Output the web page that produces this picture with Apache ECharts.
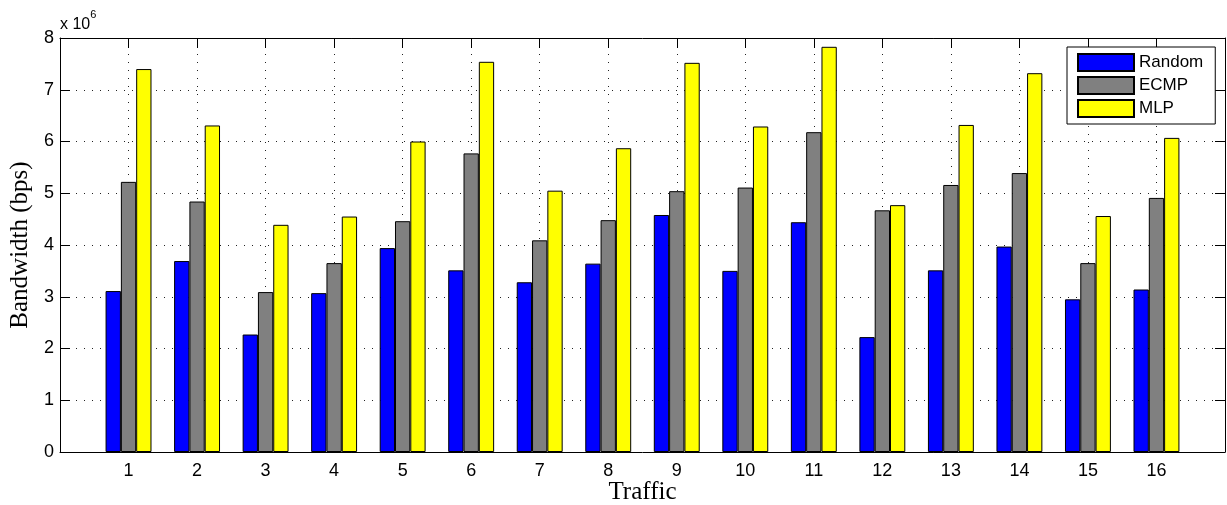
<!DOCTYPE html>
<html>
<head>
<meta charset="utf-8">
<script src="https://cdn.jsdelivr.net/npm/echarts@6/dist/echarts.min.js"></script>
<style>html,body{margin:0;padding:0;background:#fff}#c{width:1227px;height:505px}</style>
</head>
<body>
<div id="c"></div>
<script>
const categories = ['1','2','3','4','5','6','7','8','9','10','11','12','13','14','15','16'];
const seriesNames = ['Random','ECMP','MLP'];
// values in units of 10^6 bps
const randomVals = [3.11,3.69,2.27,3.07,3.94,3.51,3.28,3.64,4.58,3.50,4.44,2.22,3.51,3.97,2.95,3.14];
const ecmpVals   = [5.22,4.84,3.09,3.65,4.46,5.77,4.09,4.48,5.04,5.11,6.18,4.67,5.16,5.39,3.65,4.91];
const mlpVals    = [7.40,6.31,4.39,4.55,6.00,7.54,5.05,5.87,7.52,6.29,7.83,4.77,6.32,7.32,4.56,6.07];
const yTicks = [0,1,2,3,4,5,6,7,8];

const colors = ['#0000FF','#808080','#FFFF00'];
const seriesData = [randomVals, ecmpVals, mlpVals];
const sansFont = 'Liberation Sans, Arial, Helvetica, sans-serif';
const serifFont = 'Liberation Serif, Times New Roman, serif';

const chart = echarts.init(document.getElementById('c'), null, {renderer:'canvas'});
const gridLine = {show:true, lineStyle:{color:'#222', type:[1,7], width:1}};
const frameLine = {show:true, onZero:false, lineStyle:{color:'#000', width:1}};
const tick = {show:true, inside:true, length:10, lineStyle:{color:'#000'}};

chart.setOption({
  animation:false,
  backgroundColor:'#fff',
  grid:{left:60, right:2, top:38, bottom:53, containLabel:false, outerBoundsMode:'none'},
  legend:{
    data:seriesNames,
    orient:'vertical',
    left:1067, top:47,
    itemWidth:56, itemHeight:17, itemGap:4,
    padding:[6,12,6,10],
    borderColor:'#000', borderWidth:1,
    backgroundColor:'#fff',
    icon:'rect',
    textStyle:{fontFamily:sansFont, fontSize:17, lineHeight:17, color:'#000'}
  },
  graphic:[{
    type:'text', left:60, top:9,
    style:{
      text:'{a|x 10}{b|6}',
      rich:{
        a:{fontFamily:sansFont, fontSize:16, fill:'#000', verticalAlign:'bottom', lineHeight:24},
        b:{fontFamily:sansFont, fontSize:11, fill:'#000', verticalAlign:'top', lineHeight:24, padding:[0,0,12,0]}
      }
    }
  }],
  xAxis:[{
    type:'value', min:0, max:17, interval:1,
    axisLine:frameLine, axisTick:tick,
    axisLabel:{
      formatter:v => categories[v-1] !== undefined ? categories[v-1] : '',
      fontFamily:sansFont, fontSize:18, color:'#000', margin:10,
      showMinLabel:true, showMaxLabel:true
    },
    splitLine:gridLine,
    name:'Traffic', nameLocation:'middle', nameGap:28, nameMoveOverlap:false,
    nameTextStyle:{fontFamily:serifFont, fontSize:25, color:'#000'}
  },{
    type:'value', min:0, max:17, interval:1, position:'top',
    axisLine:frameLine, axisTick:tick, axisLabel:{show:false}, splitLine:{show:false}
  }],
  yAxis:[{
    type:'value', min:yTicks[0], max:yTicks[yTicks.length-1], interval:1,
    axisLine:frameLine, axisTick:tick,
    axisLabel:{fontFamily:sansFont, fontSize:18, color:'#000', margin:6,
      formatter:v => yTicks.includes(v) ? String(v) : ''},
    splitLine:gridLine,
    name:'Bandwidth (bps)', nameLocation:'middle', nameGap:23,
    nameTextStyle:{fontFamily:serifFont, fontSize:25, color:'#000'}
  },{
    type:'value', min:yTicks[0], max:yTicks[yTicks.length-1], interval:1, position:'right',
    axisLine:frameLine, axisTick:tick, axisLabel:{show:false}, splitLine:{show:false}
  }],
  series: seriesNames.map((name,i) => ({
    name, type:'bar',
    xAxisIndex:0, yAxisIndex:0,
    barGap:'0%', barCategoryGap:'33%',
    itemStyle:{color:colors[i], borderColor:'#000', borderWidth:1},
    data: seriesData[i].map((v,j) => [j+1, v])
  }))
});
</script>
</body>
</html>
